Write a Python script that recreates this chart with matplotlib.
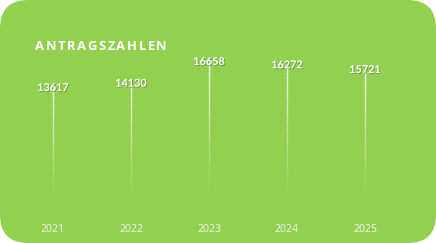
import numpy as np
import matplotlib.pyplot as plt
from matplotlib.patches import FancyBboxPatch
from matplotlib.collections import LineCollection
import matplotlib.patheffects as pe

years = ["2021", "2022", "2023", "2024", "2025"]
counts = [13617, 14130, 16658, 16272, 15721]
title = "ANTRAGSZAHLEN"

GREEN = "#92D050"


def fading_stem(ax, x, top, n=60):
    # white stem that fades out towards the baseline
    ys = np.linspace(0, top, n + 1)
    segs = [[(x, ys[i]), (x, ys[i + 1])] for i in range(n)]
    alphas = np.linspace(0.0, 1.0, n) ** 1.2
    colors = [(1, 1, 1, a) for a in alphas]
    ax.add_collection(LineCollection(segs, colors=colors, linewidths=1.0))


def spaced_title(fig, text, x0, y0, spacing):
    renderer = fig.canvas.get_renderer()
    x = x0
    for ch in text:
        t = fig.text(x, y0, ch, color="white", fontsize=9.4, fontweight="bold",
                     family="Open Sans", va="center", ha="left")
        w = t.get_window_extent(renderer).width / fig.bbox.width
        x += w + spacing


def main():
    fig = plt.figure(figsize=(4.36, 2.43), dpi=100)
    fig.patch.set_facecolor("white")

    bg = FancyBboxPatch((0, 0), 1, 1, boxstyle="round,pad=0,rounding_size=0.065",
                        transform=fig.transFigure, facecolor=GREEN,
                        edgecolor="none", mutation_aspect=436 / 243, zorder=-5)
    fig.patches.append(bg)

    ax = fig.add_axes([14 / 436, 39 / 243, 390 / 436, 171 / 243])
    ax.set_facecolor("none")
    ax.set_zorder(2)
    xs = np.arange(len(years))
    for x, v in zip(xs, counts):
        fading_stem(ax, x, v)
        ax.text(x, v, f"{v}", color="white", fontsize=7.8, fontweight="black",
                ha="center", va="center", family="Lato",
                path_effects=[pe.withSimplePatchShadow(offset=(0.6, -0.6),
                                                       shadow_rgbFace="#4a6a2a",
                                                       alpha=0.6)])
    ax.set_xlim(-0.5, len(years) - 0.5)
    ax.set_ylim(0, 20000)
    ax.set_xticks(xs)
    ax.set_xticklabels(years, color="#F4F4F4", fontsize=7.6, family="Open Sans")
    ax.tick_params(axis="x", length=0, pad=14.5)
    ax.set_yticks([])
    for s in ax.spines.values():
        s.set_visible(False)

    spaced_title(fig, title, 35 / 436, 1 - 46 / 243, 1.6 / 436)

    fig.savefig("out.png", dpi=100, facecolor=fig.get_facecolor())


if __name__ == "__main__":
    main()
